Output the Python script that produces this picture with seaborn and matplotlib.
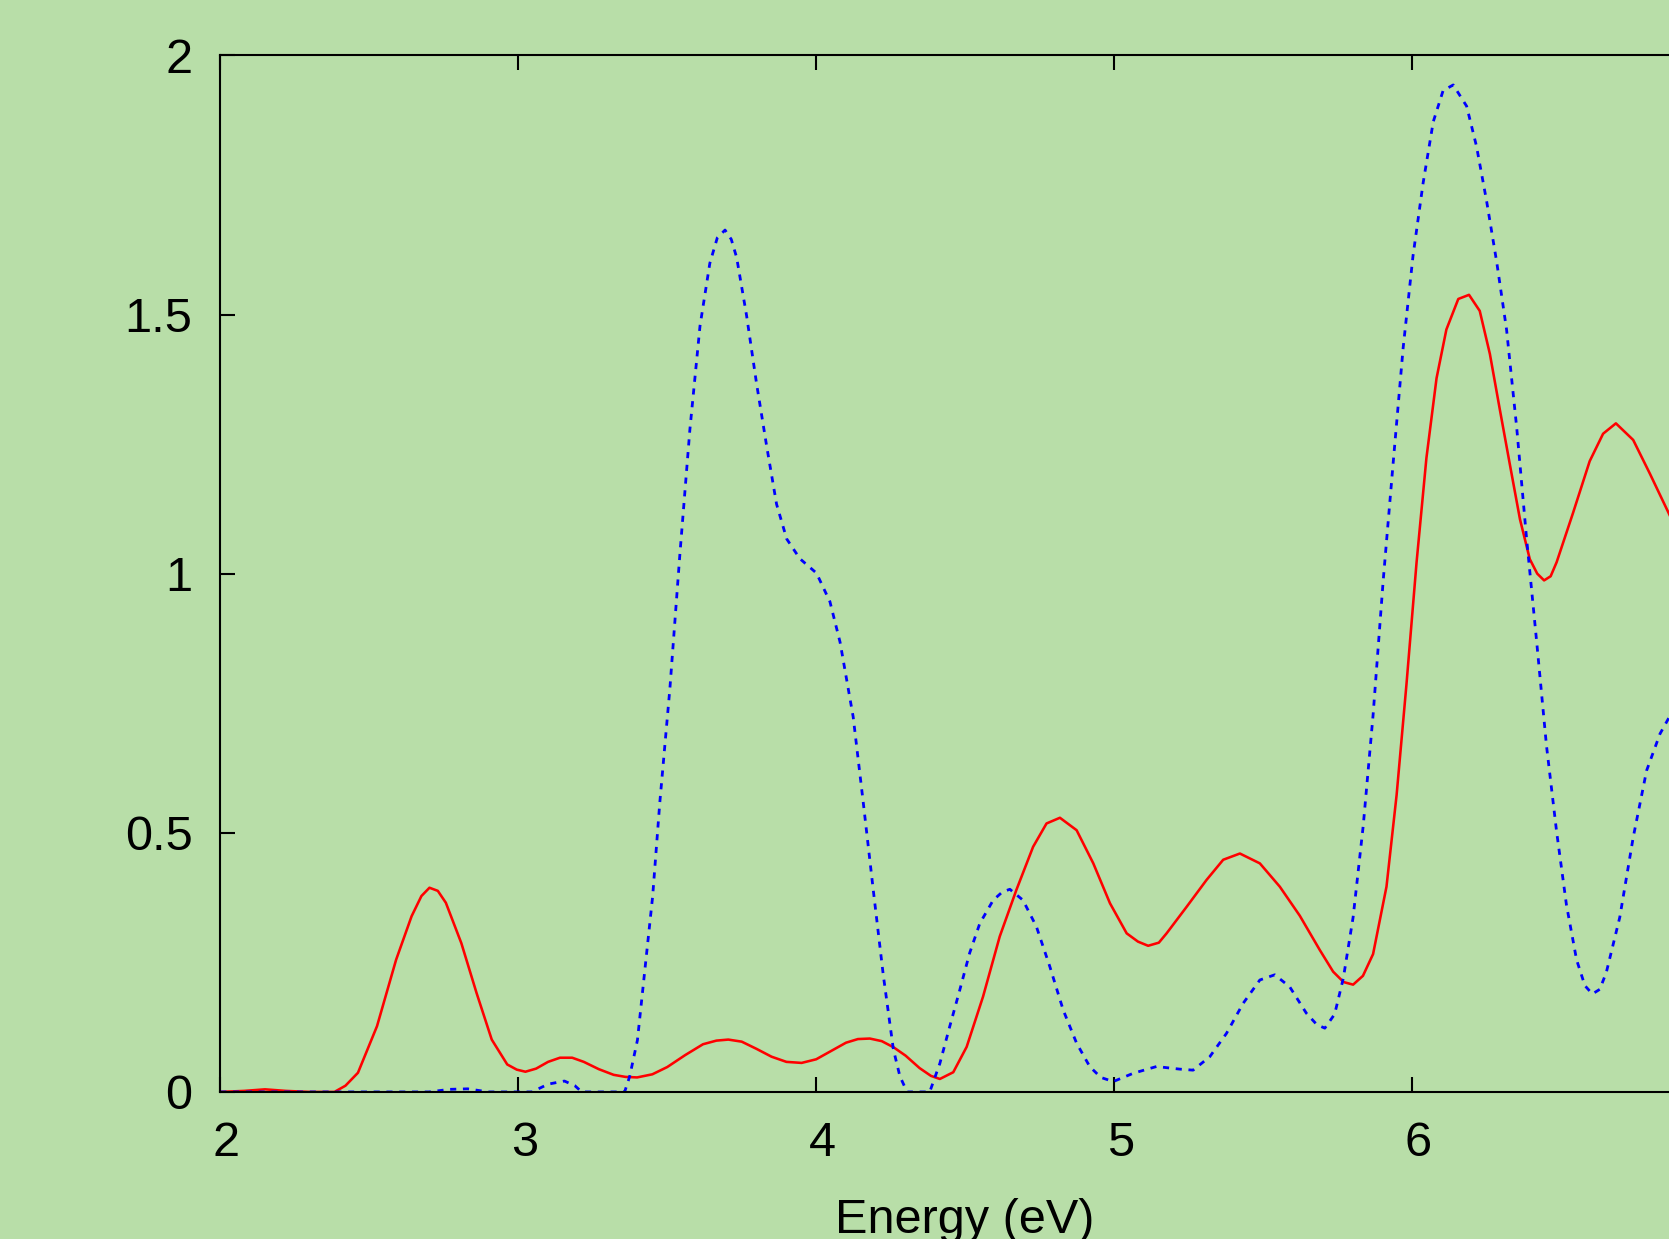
import numpy as np
import pandas as pd
import matplotlib
matplotlib.use("Agg")
import matplotlib.pyplot as plt
import matplotlib.transforms as mtransforms
import seaborn as sns

# ---- data ----
red_x = [2.00, 2.08, 2.15, 2.22, 2.30, 2.383, 2.42, 2.462, 2.526, 2.59, 2.642, 2.675, 2.702,
         2.73, 2.757, 2.809, 2.86, 2.911, 2.963, 2.995, 3.024, 3.06, 3.10, 3.14, 3.181, 3.22,
         3.27, 3.32, 3.36, 3.399, 3.45, 3.50, 3.56, 3.62, 3.665, 3.705, 3.75, 3.80, 3.85,
         3.90, 3.951, 4.00, 4.05, 4.10, 4.14, 4.18, 4.22, 4.26, 4.30, 4.347, 4.385, 4.415,
         4.46, 4.505, 4.56, 4.616, 4.672, 4.728, 4.773, 4.818, 4.874, 4.93, 4.986, 5.042,
         5.08, 5.114, 5.15, 5.176, 5.243, 5.31, 5.366, 5.422, 5.489, 5.556, 5.623, 5.69,
         5.735, 5.77, 5.802, 5.835, 5.869, 5.914, 5.948, 5.981, 6.015, 6.048, 6.082, 6.115,
         6.155, 6.191, 6.227, 6.261, 6.294, 6.328, 6.362, 6.395, 6.42, 6.443, 6.465, 6.485,
         6.54, 6.596, 6.641, 6.684, 6.742, 6.798, 6.861, 6.93, 7.00]
red_y = [0.000, 0.002, 0.005, 0.002, 0.000, 0.000, 0.012, 0.037, 0.127, 0.255, 0.339, 0.378, 0.394,
         0.388, 0.365, 0.287, 0.191, 0.101, 0.053, 0.043, 0.039, 0.045, 0.058, 0.066, 0.066, 0.058,
         0.044, 0.033, 0.029, 0.028, 0.034, 0.048, 0.071, 0.092, 0.099, 0.101, 0.097, 0.083, 0.068,
         0.058, 0.056, 0.063, 0.079, 0.095, 0.102, 0.103, 0.098, 0.086, 0.07, 0.046, 0.031, 0.025,
         0.038, 0.087, 0.184, 0.300, 0.390, 0.473, 0.518, 0.529, 0.505, 0.441, 0.364, 0.306,
         0.29, 0.282, 0.288, 0.306, 0.357, 0.409, 0.448, 0.460, 0.441, 0.396, 0.340, 0.274,
         0.232, 0.212, 0.207, 0.224, 0.266, 0.396, 0.573, 0.786, 1.022, 1.223, 1.377, 1.471,
         1.530, 1.538, 1.507, 1.424, 1.318, 1.211, 1.105, 1.028, 1.000, 0.987, 0.995, 1.022,
         1.117, 1.217, 1.270, 1.290, 1.258, 1.193, 1.117, 1.03, 0.95]

blue_x = [2.00, 2.70, 2.77, 2.83, 2.90, 3.046, 3.10, 3.155, 3.19, 3.213, 3.357, 3.374, 3.40,
          3.425, 3.451, 3.475, 3.509, 3.542, 3.576, 3.61, 3.643, 3.668, 3.694, 3.715, 3.733,
          3.766, 3.80, 3.834, 3.867, 3.901, 3.945, 4.001, 4.046, 4.08, 4.124, 4.158, 4.191,
          4.225, 4.259, 4.281, 4.305, 4.381, 4.415, 4.448, 4.482, 4.515, 4.549, 4.594, 4.625,
          4.65, 4.694, 4.739, 4.784, 4.829, 4.874, 4.918, 4.955, 4.997, 5.064, 5.142, 5.22,
          5.265, 5.321, 5.377, 5.433, 5.489, 5.539, 5.589, 5.645, 5.68, 5.707, 5.74, 5.769,
          5.802, 5.836, 5.869, 5.903, 5.936, 5.97, 6.003, 6.037, 6.071, 6.104, 6.138, 6.183,
          6.216, 6.25, 6.284, 6.317, 6.351, 6.384, 6.418, 6.451, 6.485, 6.518, 6.552, 6.58,
          6.605, 6.63, 6.652, 6.697, 6.742, 6.787, 6.832, 6.861, 6.93, 7.00]
blue_y = [0.0, 0.0, 0.005, 0.006, 0.0, 0.0, 0.015, 0.021, 0.012, 0.0, 0.0, 0.03, 0.10,
          0.236, 0.377, 0.558, 0.779, 1.034, 1.278, 1.478, 1.599, 1.648, 1.663, 1.645, 1.610,
          1.499, 1.366, 1.245, 1.134, 1.067, 1.029, 1.001, 0.946, 0.868, 0.724, 0.558, 0.392,
          0.226, 0.082, 0.03, 0.0, 0.0, 0.055, 0.126, 0.197, 0.268, 0.325, 0.370, 0.386,
          0.391, 0.370, 0.319, 0.242, 0.158, 0.094, 0.049, 0.028, 0.020, 0.036, 0.049, 0.044,
          0.042, 0.068, 0.113, 0.171, 0.216, 0.226, 0.203, 0.152, 0.13, 0.123, 0.15, 0.219,
          0.337, 0.514, 0.727, 0.987, 1.211, 1.436, 1.613, 1.754, 1.872, 1.932, 1.943, 1.902,
          1.825, 1.719, 1.601, 1.471, 1.282, 1.069, 0.869, 0.668, 0.502, 0.361, 0.255, 0.205,
          0.189, 0.198, 0.231, 0.337, 0.491, 0.620, 0.691, 0.721, 0.78, 0.82]

x_ticks = [2, 3, 4, 5, 6]
y_ticks = [0, 0.5, 1, 1.5, 2]
y_tick_labels = ["0", "0.5", "1", "1.5", "2"]
x_label = "Energy (eV)"

# ---- style ----
BG = "#b8dea8"
sns.set_theme(style="white")
plt.rcParams["font.family"] = ["Liberation Sans", "DejaVu Sans"]
plt.rcParams["text.color"] = "black"
plt.rcParams["axes.labelcolor"] = "black"
plt.rcParams["xtick.color"] = "black"
plt.rcParams["ytick.color"] = "black"

FS = 35

fig = plt.figure(figsize=(16.69, 12.39), dpi=100, facecolor=BG)
ax = fig.add_axes([0.132, 0.1187, 0.8926, 0.8366])
ax.set_facecolor(BG)

df_red = pd.DataFrame({"x": red_x, "y": red_y})
df_blue = pd.DataFrame({"x": blue_x, "y": blue_y})

sns.lineplot(data=df_red, x="x", y="y", ax=ax, color="#ff0000", linewidth=1.85,
             estimator=None, sort=False)
sns.lineplot(data=df_blue, x="x", y="y", ax=ax, color="#0000ff", linewidth=2.0,
             estimator=None, sort=False)
ax.lines[-1].set_dashes((2.2, 2.4))
ax.lines[-1].set_dash_capstyle("butt")
for ln in ax.lines:
    ln.set_solid_joinstyle("round")

ax.set_xlim(2, 7)
ax.set_ylim(0, 2)
ax.set_xticks(x_ticks)
ax.set_yticks(y_ticks)
ax.set_yticklabels(y_tick_labels)
ax.set_xlabel(x_label, fontsize=FS, labelpad=23, color="black")
ax.set_ylabel("")

for s in ["left", "top", "bottom"]:
    ax.spines[s].set_visible(True)
    ax.spines[s].set_color("black")
    ax.spines[s].set_linewidth(1.5)
ax.spines["right"].set_visible(False)

ax.tick_params(axis="x", direction="in", length=10.5, width=1.5, top=True, bottom=True,
               labelsize=FS, pad=21, colors="black")
ax.tick_params(axis="y", direction="in", length=10.5, width=1.5, left=True, right=False,
               labelsize=FS, pad=20, colors="black")
ax.grid(False)

offset = mtransforms.ScaledTranslation(6 / 100, 0, fig.dpi_scale_trans)
for lab in ax.get_xticklabels():
    lab.set_transform(lab.get_transform() + offset)

fig.savefig("out.png", dpi=100, facecolor=BG)
